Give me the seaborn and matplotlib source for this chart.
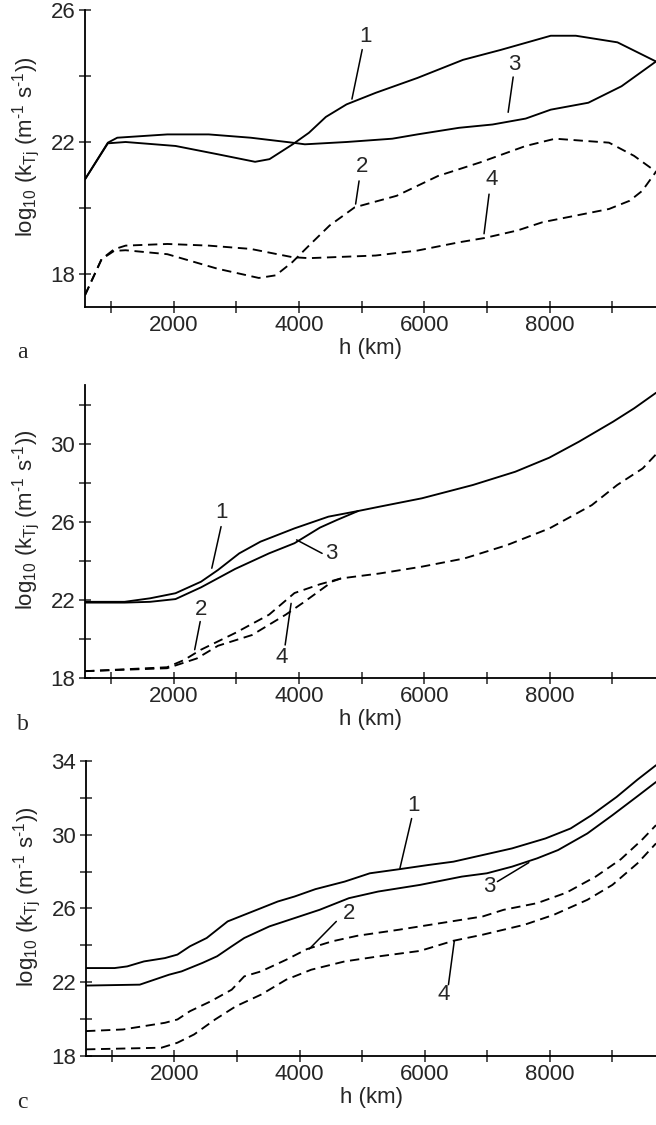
import numpy as np
import pandas as pd
import matplotlib
matplotlib.use("Agg")
import matplotlib.pyplot as plt
import seaborn as sns

# ---- data: altitude h (km) and log10 rate coefficients for the four curves ----
# panel a
h1a = [585, 950, 1233, 2030, 2700, 3300, 3530, 3900, 4160, 4430, 4760, 5225, 5890, 6620, 7220, 8020, 8420, 9085, 9700]
v1a = [20.87, 21.96, 22.0, 21.88, 21.63, 21.4, 21.48, 21.93, 22.28, 22.76, 23.14, 23.49, 23.94, 24.49, 24.79, 25.22, 25.22, 25.02, 24.44]
h3a = [585, 950, 1100, 1900, 2560, 3230, 3895, 4095, 4760, 5490, 5890, 6555, 7090, 7620, 8020, 8620, 9150, 9700]
v3a = [20.87, 21.98, 22.13, 22.23, 22.23, 22.13, 21.98, 21.93, 22.0, 22.1, 22.23, 22.43, 22.53, 22.71, 22.98, 23.19, 23.69, 24.44]
h2a = [585, 850, 1050, 1233, 1900, 2700, 3360, 3630, 3895, 4160, 4490, 4890, 5560, 6220, 6890, 7620, 8090, 8950, 9350, 9700]
v2a = [17.36, 18.45, 18.7, 18.72, 18.6, 18.16, 17.88, 17.96, 18.36, 18.86, 19.47, 20.02, 20.37, 20.97, 21.38, 21.88, 22.1, 21.98, 21.58, 21.1]
h4a = [585, 850, 1050, 1233, 1900, 2560, 3230, 3895, 4160, 5225, 5890, 6555, 6960, 7490, 7890, 8950, 9280, 9480, 9700]
v4a = [17.36, 18.45, 18.75, 18.86, 18.91, 18.86, 18.76, 18.51, 18.48, 18.56, 18.71, 18.96, 19.09, 19.32, 19.57, 19.97, 20.22, 20.52, 21.1]

# panel b
h1b = [585, 1217, 1624, 2030, 2437, 2708, 3047, 3386, 3929, 4471, 4946, 5285, 5963, 6776, 7454, 7997, 8471, 9014, 9353, 9700]
v1b = [21.9, 21.9, 22.08, 22.34, 22.93, 23.53, 24.38, 24.98, 25.66, 26.26, 26.55, 26.77, 27.2, 27.88, 28.56, 29.28, 30.1, 31.12, 31.81, 32.6]
h3b = [585, 1217, 1624, 2030, 2437, 2980, 3522, 3929, 4336, 4607, 4946]
v3b = [21.86, 21.86, 21.9, 22.04, 22.64, 23.58, 24.38, 24.9, 25.7, 26.09, 26.55]
h2b = [585, 1895, 2166, 2437, 2980, 3522, 3929, 4336, 4675, 5285, 5963, 6640, 7319, 8000, 8675, 9080, 9488, 9700]
v2b = [18.35, 18.55, 18.92, 19.45, 20.3, 21.24, 22.35, 22.8, 23.1, 23.35, 23.7, 24.12, 24.8, 25.66, 26.85, 27.88, 28.73, 29.45]
h4b = [585, 1895, 2370, 2708, 3251, 3793, 4064, 4539, 4675]
v4b = [18.35, 18.5, 19.0, 19.65, 20.2, 21.25, 21.85, 22.95, 23.1]

# panel c
h1c = [585, 1043, 1244, 1512, 1846, 2047, 2247, 2515, 2850, 3050, 3385, 3652, 3920, 4254, 4722, 5124, 5592, 6060, 6461, 6930, 7398, 7933, 8334, 8669, 9070, 9404, 9700]
v1c = [22.77, 22.77, 22.86, 23.13, 23.31, 23.5, 23.95, 24.4, 25.3, 25.57, 26.02, 26.38, 26.65, 27.05, 27.46, 27.91, 28.13, 28.36, 28.54, 28.9, 29.26, 29.8, 30.34, 31.06, 32.05, 32.99, 33.77]
h3c = [585, 1445, 1913, 2114, 2448, 2682, 2916, 3116, 3518, 3920, 4321, 4789, 5257, 5926, 6595, 6996, 7398, 7799, 8134, 8602, 9003, 9404, 9700]
v3c = [21.82, 21.87, 22.41, 22.59, 23.05, 23.41, 23.95, 24.4, 25.03, 25.48, 25.93, 26.56, 26.92, 27.28, 27.73, 27.91, 28.27, 28.72, 29.17, 30.07, 31.06, 32.09, 32.86]
h2c = [585, 1177, 1846, 2047, 2247, 2582, 2916, 3116, 3385, 3786, 4120, 4522, 4923, 5592, 6261, 6930, 7264, 7799, 8267, 8736, 9137, 9471, 9700]
v2c = [19.35, 19.44, 19.8, 19.98, 20.43, 20.97, 21.6, 22.32, 22.59, 23.22, 23.8, 24.22, 24.52, 24.85, 25.21, 25.57, 25.93, 26.29, 26.86, 27.73, 28.67, 29.71, 30.52]
h4c = [585, 1792, 2047, 2314, 2649, 2983, 3385, 3786, 4187, 4722, 5257, 5926, 6461, 6930, 7598, 8067, 8602, 9003, 9404, 9700]
v4c = [18.36, 18.45, 18.72, 19.17, 19.98, 20.7, 21.33, 22.14, 22.68, 23.13, 23.4, 23.7, 24.25, 24.58, 25.12, 25.66, 26.47, 27.28, 28.45, 29.53]

curve_ids = ["1", "2", "3", "4"]
curve_kind = {"1": "solid", "3": "solid", "2": "dashed", "4": "dashed"}

panel_letters = ["a", "b", "c"]
x_ticks_labeled = [2000, 4000, 6000, 8000]
x_ticks_all = [1000, 2000, 3000, 4000, 5000, 6000, 7000, 8000, 9000]
y_labels_a = [18, 22, 26]
y_labels_b = [18, 22, 26, 30]
y_labels_c = [18, 22, 26, 30, 34]

panels = [
    {"curves": {"1": (h1a, v1a), "2": (h2a, v2a), "3": (h3a, v3a), "4": (h4a, v4a)},
     "ylim": (17, 26), "ylab": y_labels_a},
    {"curves": {"1": (h1b, v1b), "2": (h2b, v2b), "3": (h3b, v3b), "4": (h4b, v4b)},
     "ylim": (18, 33), "ylab": y_labels_b},
    {"curves": {"1": (h1c, v1c), "2": (h2c, v2c), "3": (h3c, v3c), "4": (h4c, v4c)},
     "ylim": (18, 34), "ylab": y_labels_c},
]

# curve labels: (text, text position, leader start, leader end) in data units
callouts = [
    [("1", (5060, 25.2), (5010, 24.8), (4846, 23.3)),
     ("3", (7434, 24.35), (7420, 23.97), (7340, 22.9)),
     ("2", (5012, 21.25), (4960, 20.82), (4905, 20.12)),
     ("4", (7075, 20.85), (7035, 20.42), (6955, 19.22))],
    [("1", (2757, 26.45), (2757, 25.75), (2609, 23.62)),
     ("3", (4520, 24.38), (4370, 24.38), (3963, 25.07)),
     ("2", (2437, 21.5), (2424, 20.89), (2336, 19.45)),
     ("4", (3726, 19.05), (3780, 19.69), (3875, 21.82))],
    [("1", (5826, 31.6), (5792, 30.88), (5605, 28.18)),
     ("3", (7030, 27.19), (7164, 27.46), (7666, 28.49)),
     ("2", (4789, 25.75), (4588, 25.3), (4154, 23.8)),
     ("4", (6311, 21.33), (6381, 21.87), (6475, 24.25))],
]

sns.set_style("ticks")
sans = "Liberation Sans"
fs = 16
plt.rcParams["font.family"] = [sans, "DejaVu Sans"]
plt.rcParams["mathtext.fontset"] = "custom"
plt.rcParams["mathtext.rm"] = sans
plt.rcParams["mathtext.it"] = sans

W, H = 656, 1125
fig = plt.figure(figsize=(W / 100, H / 100), dpi=100)

# axes frames in pixel units: (left, top, bottom)
frames = [(85, 10, 307), (85, 385, 678), (86, 761, 1056)]

hy = "\u2010"  # short hyphen for the exponents
ylabel_text = ("log$_{10}$ (k$_{\\mathrm{Tj}}$ (m$^{\\mathrm{" + hy + "1}}$ s$^{\\mathrm{"
               + hy + "1}}$))")

for i, (panel, frame, calls) in enumerate(zip(panels, frames, callouts)):
    left, top, bottom = frame
    ax = fig.add_axes([left / W, 1 - bottom / H, (W - left) / W, (bottom - top) / H])

    rows = []
    for cid in curve_ids:
        hh, vv = panel["curves"][cid]
        for x, y in zip(hh, vv):
            rows.append({"h": x, "val": y, "curve": cid, "kind": curve_kind[cid]})
    df = pd.DataFrame(rows)

    sns.lineplot(data=df, x="h", y="val", units="curve", estimator=None,
                 style="kind", dashes={"solid": "", "dashed": (5, 3)},
                 color="black", linewidth=1.35, legend=False, sort=False, ax=ax)

    for txt, tpos, p0, p1 in calls:
        ax.text(tpos[0], tpos[1], txt, fontsize=fs, ha="center", va="center")
        ax.plot([p0[0], p1[0]], [p0[1], p1[1]], color="black", lw=1.1)

    ax.set_xlim(585, 9700)
    ax.set_ylim(*panel["ylim"])
    ax.set_xticks(x_ticks_all)
    ax.set_xticklabels([str(t) if t in x_ticks_labeled else "" for t in x_ticks_all])
    lo, hi = panel["ylim"]
    yt = [t for t in range(18, hi + 1, 2)]
    ax.set_yticks(yt)
    ax.set_yticklabels([str(t) if t in panel["ylab"] else "" for t in yt])
    ax.tick_params(direction="inout", length=8, width=1.1, labelsize=fs, pad=2)
    ax.tick_params(axis="y", pad=3)

    for s in ("top", "right"):
        ax.spines[s].set_visible(False)
    for s in ("left", "bottom"):
        ax.spines[s].set_linewidth(1.3)
        ax.spines[s].set_color("black")

    ax.set_xlabel("h (km)", fontsize=fs, labelpad=1)
    ax.set_ylabel(ylabel_text, fontsize=fs)
    ax.yaxis.set_label_coords(-0.075, 0.54)

    ax.text(17 / W, 1 - (bottom + 46) / H, panel_letters[i], transform=fig.transFigure,
            fontsize=17, family=["Liberation Serif", "DejaVu Serif"], ha="left", va="center")

fig.savefig("out.png", dpi=100, facecolor="white")
